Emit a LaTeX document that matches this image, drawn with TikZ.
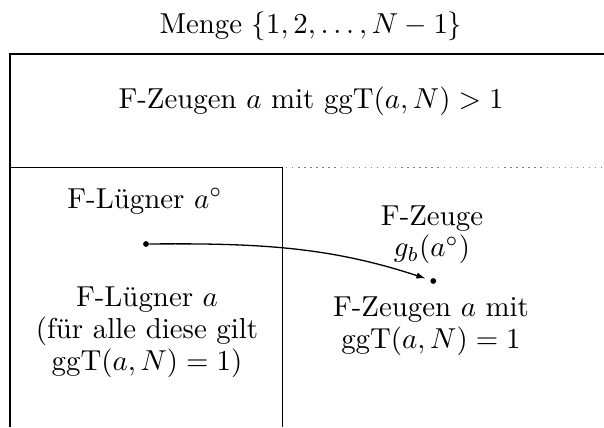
\documentclass[tikz,border=0pt]{standalone}
\usetikzlibrary{arrows.meta}
\begin{document}
\begin{tikzpicture}[x=0.3466pt,y=-0.3466pt,
  outer/.style={line width=0.85pt},
  inner/.style={line width=0.45pt},
  sep/.style={gray,line width=0.55pt,dash pattern=on 0.5pt off 1.6pt},
  lbl/.style={inner sep=0pt,align=center,font=\fontsize{10}{10.92}\selectfont},
  dot/.style={circle,fill,inner sep=0pt,minimum size=2pt},
  conn/.style={line width=0.45pt,-{Latex[length=3.2pt,width=2.2pt]},shorten >=1.6pt}]
\useasboundingbox (0,0) rectangle (604,427);
% frame
\draw[outer] (10,427) -- (10,54) -- (604,54);
\draw[inner] (10,167.5) -- (282.3,167.5) -- (282.3,427);
\draw[sep] (286,167.5) -- (604,167.5);
% texts
\node[lbl,anchor=base] (title) at (311,33) {Menge $\{1,2,\ldots,N-1\}$};
\node[lbl,anchor=base] (top) at (311,108) {F-Zeugen $a$ mit $\mathrm{ggT}(a,N)>1$};
\node[lbl,anchor=base] (lig) at (145,208) {F-L\"ugner $a^\circ$};
\node[lbl,anchor=base] (zg) at (432,256.7) {F-Zeuge\\$g_b(a^\circ)$};
\node[lbl,anchor=base] (lia) at (147,370) {F-L\"ugner $a$\\(f\"ur alle diese gilt\\$\mathrm{ggT}(a,N)=1)$};
\node[lbl,anchor=base] (zn) at (431,348) {F-Zeugen $a$ mit\\$\mathrm{ggT}(a,N)=1$};
% arrow
\node[dot] (s) at (146,244) {};
\node[dot] (e) at (433.3,281) {};
\draw[conn] (s) .. controls (260,243) and (330,247) .. (e);
\end{tikzpicture}
\end{document}
